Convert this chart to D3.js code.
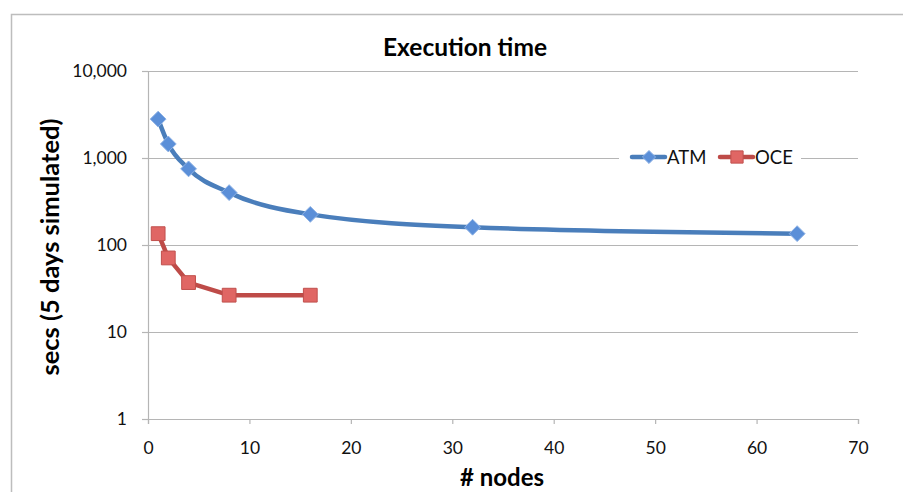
<!DOCTYPE html>
<html>
<head>
<meta charset="utf-8">
<script src="https://cdn.jsdelivr.net/npm/d3@7"></script>
<style>
  body { margin: 0; background: #fff; }
  text { font-family: Lato, "Open Sans", sans-serif; }
</style>
</head>
<body>
<div id="chart"></div>
<script>
// data
var nodes = [1, 2, 4, 8, 16, 32, 64]
var atm = [2800, 1450, 750, 400, 225, 160, 135]
var oceNodes = [1, 2, 4, 8, 16]
var oce = [135, 71, 37, 26.5, 26.5]
var xTicks = [0, 10, 20, 30, 40, 50, 60, 70]
var yTicks = [1, 10, 100, 1000, 10000]

var w = 903, h = 492

var svg = d3.select('#chart').append('svg').attr('width', w).attr('height', h)

// outer chart border
svg.append('rect').attr('x', 11.5).attr('y', 14.5).attr('width', 900).attr('height', 490)
  .attr('fill', 'none').attr('stroke', '#bdbdbd').attr('stroke-width', 1.5)

var x = d3.scaleLinear().domain([0, 70]).range([148, 858])
var y = d3.scaleLog().domain([1, 10000]).range([419, 71])

// gridlines
svg.append('g').selectAll('line').data(yTicks.slice(1)).enter().append('line')
  .attr('x1', 142).attr('x2', 858)
  .attr('y1', function(d){ return Math.round(y(d)) + 0.5 })
  .attr('y2', function(d){ return Math.round(y(d)) + 0.5 })
  .attr('stroke', '#b5b5b5').attr('stroke-width', 1.2)

// y axis
var yAxis = d3.axisLeft(y).tickValues(yTicks).tickSize(6).tickPadding(15).tickFormat(d3.format(','))
var gy = svg.append('g').attr('transform', 'translate(148,0)').call(yAxis)
gy.select('.domain').attr('stroke', '#b5b5b5').attr('stroke-width', 1.2)
gy.selectAll('.tick line').attr('stroke', '#b5b5b5').attr('stroke-width', 1.2)
gy.selectAll('.tick text').attr('font-size', 17.5).attr('fill', '#111').style('font-family', 'Lato, sans-serif')

// x axis
var xAxis = d3.axisBottom(x).tickValues(xTicks).tickSize(5).tickPadding(18)
var gx = svg.append('g').attr('transform', 'translate(0,419)').call(xAxis)
gx.select('.domain').attr('stroke', '#b5b5b5').attr('stroke-width', 1.2)
gx.selectAll('.tick line').attr('stroke', '#b5b5b5').attr('stroke-width', 1.2)
gx.selectAll('.tick text').attr('font-size', 17.5).attr('fill', '#111').style('font-family', 'Lato, sans-serif')

var line = d3.line().x(function(d){ return x(d[0]) }).y(function(d){ return y(d[1]) })
  .curve(d3.curveMonotoneX)

var atmData = d3.zip(nodes, atm)
var oceData = d3.zip(oceNodes, oce)

svg.append('path').datum(atmData).attr('d', line).attr('fill', 'none')
  .attr('stroke', '#4a7ebb').attr('stroke-width', 4.5).attr('stroke-linejoin', 'round')
svg.append('path').datum(oceData).attr('d', line.curve(d3.curveLinear)).attr('fill', 'none')
  .attr('stroke', '#be4b48').attr('stroke-width', 4.5).attr('stroke-linejoin', 'round')

var diamond = d3.symbol().type(d3.symbolDiamond2).size(160)
var square = d3.symbol().type(d3.symbolSquare).size(190)

svg.append('g').selectAll('path').data(atmData).enter().append('path')
  .attr('d', diamond)
  .attr('transform', function(d){ return 'translate(' + x(d[0]) + ',' + y(d[1]) + ')' })
  .attr('fill', '#5b8fd8').attr('stroke', '#8fb3e6').attr('stroke-width', 1)

svg.append('g').selectAll('path').data(oceData).enter().append('path')
  .attr('d', square)
  .attr('transform', function(d){ return 'translate(' + x(d[0]) + ',' + y(d[1]) + ')' })
  .attr('fill', '#e06664').attr('stroke', '#c0504d').attr('stroke-width', 1)

// legend
var lg = svg.append('g')
lg.append('rect').attr('x', 619).attr('y', 145).attr('width', 182).attr('height', 24).attr('fill', '#fff')
var items = [
  { name: 'ATM', color: '#4a7ebb', fill: '#5b8fd8', sym: diamond, x: 632 },
  { name: 'OCE', color: '#be4b48', fill: '#e06664', sym: square, x: 720 }
]
items.forEach(function(it){
  lg.append('line').attr('x1', it.x).attr('x2', it.x + 33).attr('y1', 157).attr('y2', 157)
    .attr('stroke', it.color).attr('stroke-width', 4.5).attr('stroke-linecap', 'round')
  lg.append('path').attr('d', it.sym.size(it.name == 'ATM' ? 110 : 150))
    .attr('transform', 'translate(' + (it.x + 17) + ',157)')
    .attr('fill', it.fill).attr('stroke', it.name == 'ATM' ? '#8fb3e6' : '#c0504d')
  lg.append('text').attr('x', it.x + 35).attr('y', 164).attr('font-size', 18.5).attr('fill', '#111').text(it.name)
})

// titles
svg.append('text').attr('x', 465).attr('y', 56).attr('text-anchor', 'middle')
  .attr('font-size', 24.5).attr('font-weight', 'bold').attr('fill', '#000').text('Execution time')
svg.append('text').attr('x', 502).attr('y', 486).attr('text-anchor', 'middle')
  .attr('font-size', 24).attr('font-weight', 'bold').attr('fill', '#000').text('# nodes')
svg.append('text').attr('transform', 'translate(59,247) rotate(-90)').attr('text-anchor', 'middle')
  .attr('font-size', 25.5).attr('font-weight', 'bold').attr('fill', '#000').text('secs (5 days simulated)')
</script>
</body>
</html>
